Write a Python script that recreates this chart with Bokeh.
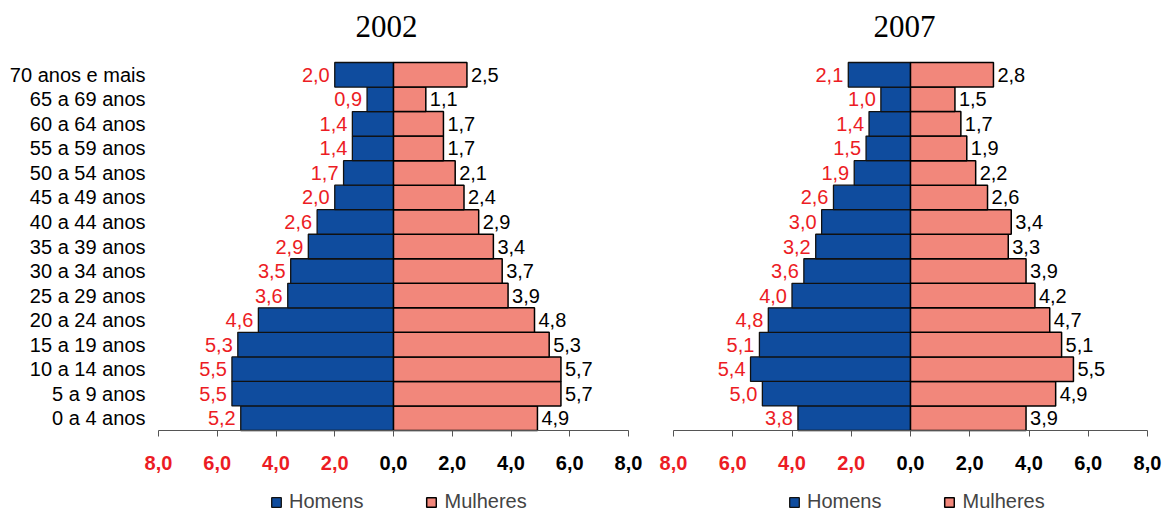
from bokeh.plotting import figure
from bokeh.models import (ColumnDataSource, LabelSet, Label, FixedTicker, Legend, LegendItem,
                          Range1d)
from bokeh.core.properties import value
from bokeh.layouts import row
from bokeh.embed import file_html
from bokeh.resources import INLINE

# ---------------- data (bottom to top) ----------------
categories = ["0 a 4 anos", "5 a 9 anos", "10 a 14 anos", "15 a 19 anos", "20 a 24 anos",
              "25 a 29 anos", "30 a 34 anos", "35 a 39 anos", "40 a 44 anos", "45 a 49 anos",
              "50 a 54 anos", "55 a 59 anos", "60 a 64 anos", "65 a 69 anos", "70 anos e mais"]

homens_2002 = [5.2, 5.5, 5.5, 5.3, 4.6, 3.6, 3.5, 2.9, 2.6, 2.0, 1.7, 1.4, 1.4, 0.9, 2.0]
mulheres_2002 = [4.9, 5.7, 5.7, 5.3, 4.8, 3.9, 3.7, 3.4, 2.9, 2.4, 2.1, 1.7, 1.7, 1.1, 2.5]

homens_2007 = [3.8, 5.0, 5.4, 5.1, 4.8, 4.0, 3.6, 3.2, 3.0, 2.6, 1.9, 1.5, 1.4, 1.0, 2.1]
mulheres_2007 = [3.9, 4.9, 5.5, 5.1, 4.7, 4.2, 3.9, 3.3, 3.4, 2.6, 2.2, 1.9, 1.7, 1.5, 2.8]

x_ticks = [-8, -6, -4, -2, 0, 2, 4, 6, 8]
series_names = ["Homens", "Mulheres"]
years = ["2002", "2007"]

BLUE = "#0f4c9e"
PINK = "#f2877b"
RED = "#ec1c24"
SANS = "Liberation Sans"
FS = "20px"

# ---------------- layout geometry (pixels) ----------------
H = 513            # canvas height
BAR_TOP = 62       # pixel row of the top of the bars
ROW = 368 / 15     # pixels per age group


def py(pix):
    """pixel row (from top) -> data y"""
    return (len(categories) - 0.5) - (pix - BAR_TOP) / ROW


def fmt(v):
    return f"{abs(v):.1f}".replace(".", ",")


def pyramid(year, men, women, show_cats, frame_left, frame_right, ax_left, ax_right,
            legend_x, title_dx):
    scale = (ax_right - ax_left) / 16.0
    x0 = -8 - (ax_left - frame_left) / scale
    x1 = 8 + (frame_right - ax_right) / scale
    p = figure(x_range=Range1d(x0, x1), y_range=Range1d(py(H), py(0)),
               frame_width=frame_right - frame_left, frame_height=H,
               min_border=0, min_border_left=frame_left if show_cats else 0,
               output_backend="svg", toolbar_location=None, outline_line_color=None,
               y_axis_location="left" if show_cats else None)
    p.xgrid.visible = False
    p.ygrid.visible = False

    ypos = list(range(len(categories)))
    src = ColumnDataSource(dict(
        y=ypos,
        mneg=[-v for v in men],
        w=women,
        mlab=[fmt(v) for v in men],
        wlab=[fmt(v) for v in women],
    ))
    r_m = p.hbar(y="y", left="mneg", right=0, height=1, fill_color=BLUE,
                 line_color="#111111", line_width=1.3, source=src)
    r_w = p.hbar(y="y", left=0, right="w", height=1, fill_color=PINK,
                 line_color="black", line_width=1.5, source=src)

    p.add_layout(LabelSet(x="mneg", y="y", text="mlab", source=src, x_offset=-5,
                          text_align="right", text_baseline="middle", text_color=RED,
                          text_font=value(SANS), text_font_size=FS))
    p.add_layout(LabelSet(x="w", y="y", text="wlab", source=src, x_offset=4,
                          text_align="left", text_baseline="middle", text_color="black",
                          text_font=value(SANS), text_font_size=FS))

    # x axis: line + ticks at the base of the bars; labels drawn separately (red / black)
    ax = p.xaxis[0]
    ax.fixed_location = -0.5
    ax.bounds = (-8, 8)
    ax.ticker = FixedTicker(ticks=x_ticks)
    ax.axis_line_color = "#555555"
    ax.major_tick_line_color = "#555555"
    ax.major_tick_in = 0
    ax.major_tick_out = 6
    ax.minor_tick_line_color = None
    ax.major_label_text_color = None

    tsrc = ColumnDataSource(dict(
        t=x_ticks,
        txt=[fmt(t) for t in x_ticks],
        col=[RED if t < 0 else "black" for t in x_ticks],
    ))
    p.add_layout(LabelSet(x="t", y=py(462), text="txt", source=tsrc,
                          text_color="col", text_align="center", text_baseline="middle",
                          text_font=value(SANS), text_font_size=FS, text_font_style="bold"))

    if show_cats:
        yax = p.yaxis[0]
        yax.ticker = FixedTicker(ticks=ypos)
        yax.major_label_overrides = {i: c for i, c in enumerate(categories)}
        yax.axis_line_color = None
        yax.major_tick_line_color = None
        yax.minor_tick_line_color = None
        yax.major_tick_out = 0
        yax.major_tick_in = 0
        yax.major_label_standoff = -2
        yax.major_label_text_font = SANS
        yax.major_label_text_font_size = FS
        yax.major_label_text_color = "black"

    p.add_layout(Label(x=0, y=py(26), text=year, x_offset=title_dx, text_align="center",
                       text_baseline="middle", text_font="Liberation Serif",
                       text_font_size="31px", text_color="black"))

    leg = Legend(items=[LegendItem(label=series_names[0], renderers=[r_m]),
                        LegendItem(label=series_names[1], renderers=[r_w])],
                 location=(legend_x, 0), orientation="horizontal",
                 glyph_width=12, glyph_height=12, label_standoff=7, spacing=62,
                 padding=0, margin=0, border_line_color=None, background_fill_alpha=0,
                 label_text_font=SANS, label_text_font_size=FS, label_height=20)
    p.add_layout(leg)
    return p


p1 = pyramid(years[0], homens_2002, mulheres_2002, True,
             frame_left=143, frame_right=650, ax_left=158, ax_right=628,
             legend_x=270 - 143, title_dx=-7)
p2 = pyramid(years[1], homens_2007, mulheres_2007, False,
             frame_left=0, frame_right=512, ax_left=23, ax_right=497,
             legend_x=788 - 650, title_dx=-6)
layout = row(p1, p2)

open("out.html", "w").write(file_html(layout, INLINE))
